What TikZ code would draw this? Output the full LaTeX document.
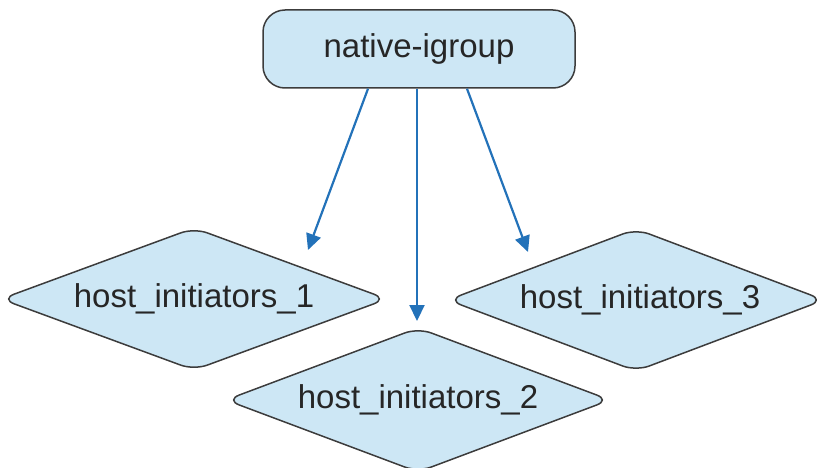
\documentclass[tikz,border=0pt]{standalone}
\usepackage{fontspec}
\setmainfont{Liberation Sans}
\usetikzlibrary{arrows.meta}
\definecolor{nodefill}{HTML}{CDE7F5}
\definecolor{nodeedge}{HTML}{3C3C3C}
\definecolor{linkblue}{HTML}{2372B9}
\begin{document}
\begin{tikzpicture}[x=1pt,y=1pt,
  lbl/.style={font=\fontsize{33}{40}\selectfont, text=black!85},
  groupbox/.style={lbl, draw=nodeedge, fill=nodefill, line width=1.5pt,
    rounded corners=22pt, minimum width=312pt, minimum height=78pt, inner sep=0pt},
  hostshape/.style={draw=nodeedge, fill=nodefill, line width=1.5pt, rounded corners=14pt},
  link/.style={draw=linkblue, line width=2.2pt,
    -{Triangle[length=16pt,width=15pt]}}]
  \useasboundingbox (0,0) rectangle (817,467);
  \clip (0,0) rectangle (817,467);

  % centres of the host initiator groups
  \coordinate (c1) at (194,168);
  \coordinate (c2) at (418,67);
  \coordinate (c3) at (636,167);

  % diamond outlines
  \draw[hostshape, shift={(c1)}] (-193,0) -- (0,71) -- (193,0) -- (0,-71) -- cycle;
  \draw[hostshape, shift={(c3)}] (-188,0) -- (0,71) -- (188,0) -- (0,-71) -- cycle;
  \draw[hostshape, shift={(c2)}] (-192,0) -- (0,72) -- (192,0) -- (0,-72) -- cycle;

  % host initiator labels
  \node[lbl] (h1) at (c1) {host\_initiators\_1};
  \node[lbl] (h3) at ([xshift=4pt]c3) {host\_initiators\_3};
  \node[lbl] (h2) at (c2) {host\_initiators\_2};

  % native igroup
  \node[groupbox] (ig) at (419,418) {native-igroup};

  % arrow end points
  \coordinate (s1) at (368,379);
  \coordinate (s2) at (417,379);
  \coordinate (s3) at (467,379);
  \coordinate (e1) at (308,217);
  \coordinate (e2) at (417,146);
  \coordinate (e3) at (528,215);

  \draw[link] (ig.south -| s1) -- (e1);
  \draw[link] (ig.south -| s2) -- (e2);
  \draw[link] (ig.south -| s3) -- (e3);
\end{tikzpicture}
\end{document}
